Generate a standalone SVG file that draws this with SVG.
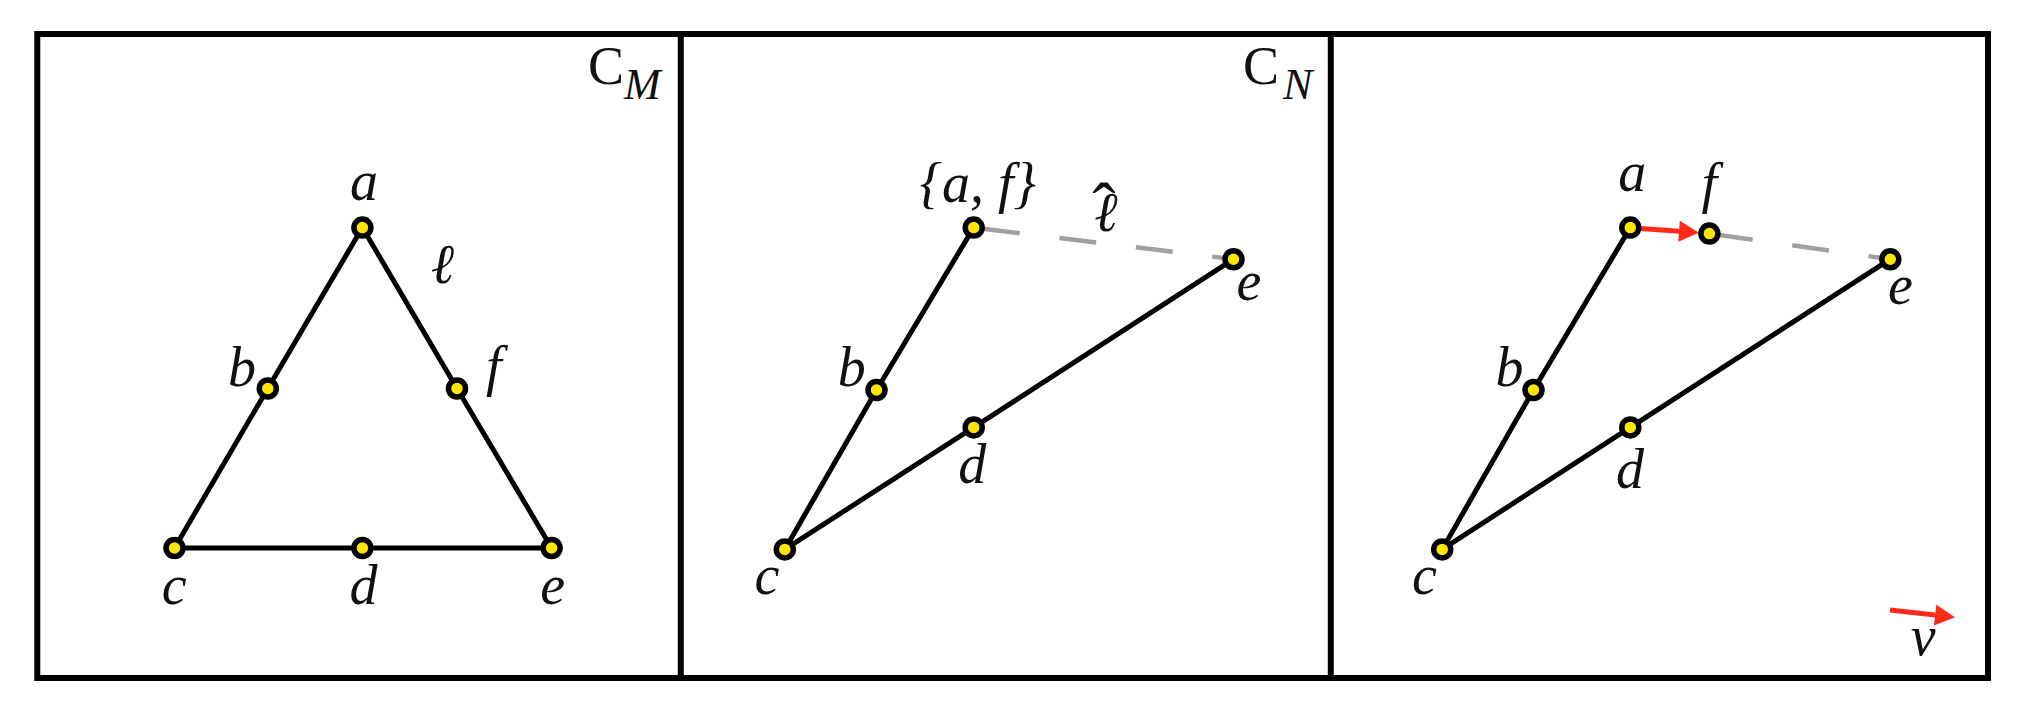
<svg xmlns="http://www.w3.org/2000/svg" width="2034" height="728" viewBox="0 0 2034 728">
<defs>
<style>
.frame{fill:none;stroke:#000;stroke-width:6}
.edge{stroke:#000;stroke-width:5;fill:none;stroke-linecap:round}
.dash{stroke:#a0a0a0;stroke-width:4.5;fill:none;stroke-dasharray:37 40}
.red{stroke:#ff2a1a;stroke-width:5;fill:none}
.node circle{fill:#ffe500;stroke:#000;stroke-width:5.5}
.lbl{font-family:"Liberation Serif",serif;font-style:italic;font-size:56px;fill:#111;text-anchor:middle}
.cap{font-family:"Liberation Serif",serif;font-size:54px;fill:#111}
.sub{font-family:"Liberation Serif",serif;font-style:italic;font-size:44px;fill:#111}
</style>
<marker id="ah" viewBox="-1 -12 22 24" markerWidth="22" markerHeight="24" refX="0" refY="0" orient="auto" markerUnits="userSpaceOnUse">
<path d="M0,-10.5 L20,0 L0,10.5 Z" fill="#ff2a1a"/>
</marker>
</defs>
<rect width="2034" height="728" fill="#fff"/>
<g id="frames">
<rect class="frame" x="37.3" y="34" width="1950.7" height="644"/>
<line class="frame" x1="680.8" y1="34" x2="680.8" y2="678"/>
<line class="frame" x1="1330.8" y1="34" x2="1330.8" y2="678"/>
</g>
<g id="connectors">
<line class="edge" x1="362.4" y1="227.6" x2="267.8" y2="388.5"/>
<line class="edge" x1="267.8" y1="388.5" x2="174.5" y2="548"/>
<line class="edge" x1="362.4" y1="227.6" x2="457" y2="388.5"/>
<line class="edge" x1="457" y1="388.5" x2="551.6" y2="548"/>
<line class="edge" x1="174.5" y1="548" x2="362.4" y2="548"/>
<line class="edge" x1="362.4" y1="548" x2="551.6" y2="548"/>
<line class="dash" x1="983" y1="228.8" x2="1233.5" y2="259.2"/>
<line class="edge" x1="973.7" y1="227.6" x2="876.5" y2="390"/>
<line class="edge" x1="876.5" y1="390" x2="784.8" y2="549.4"/>
<line class="edge" x1="784.8" y1="549.4" x2="973.7" y2="427.4"/>
<line class="edge" x1="973.7" y1="427.4" x2="1233.5" y2="259.2"/>
<line class="dash" x1="1716" y1="234.5" x2="1890.3" y2="259.2"/>
<line class="edge" x1="1630.3" y1="227.6" x2="1533.5" y2="390"/>
<line class="edge" x1="1533.5" y1="390" x2="1442.2" y2="549.4"/>
<line class="edge" x1="1442.2" y1="549.4" x2="1630.3" y2="427.4"/>
<line class="edge" x1="1630.3" y1="427.4" x2="1890.3" y2="259.2"/>
<line class="red" x1="1640.3" y1="228.4" x2="1679" y2="231.3" marker-end="url(#ah)"/>
<line class="red" x1="1890" y1="610" x2="1935.1" y2="615.1" marker-end="url(#ah)"/>
</g>
<g id="panel-M">
<text class="cap" x="588" y="83.7">C</text><text class="sub" x="624" y="98.5">M</text>
<g id="m-a" class="node"><circle cx="362.4" cy="227.6" r="8.5"/><text class="lbl" x="364" y="200">a</text></g>
<g id="m-b" class="node"><circle cx="267.8" cy="388.5" r="8.5"/><text class="lbl" x="242" y="385.5">b</text></g>
<g id="m-f" class="node"><circle cx="457" cy="388.5" r="8.5"/><text class="lbl" x="493.7" y="385">f</text></g>
<g id="m-c" class="node"><circle cx="174.5" cy="548" r="8.5"/><text class="lbl" x="174.3" y="603.7">c</text></g>
<g id="m-d" class="node"><circle cx="362.4" cy="548" r="8.5"/><text class="lbl" x="363.6" y="603.7">d</text></g>
<g id="m-e" class="node"><circle cx="551.6" cy="548" r="8.5"/><text class="lbl" x="552.8" y="603.7">e</text></g>
<text class="lbl" x="442.5" y="283">ℓ</text>
</g>
<g id="panel-N">
<text class="cap" x="1243" y="83.7">C</text><text class="sub" x="1283" y="98.5">N</text>
<g id="n-af" class="node"><circle cx="973.7" cy="227.6" r="8.5"/><text class="lbl" x="977.8" y="202">{a, f}</text></g>
<g id="n-b" class="node"><circle cx="876.5" cy="390" r="8.5"/><text class="lbl" x="851.8" y="385.5">b</text></g>
<g id="n-d" class="node"><circle cx="973.7" cy="427.4" r="8.5"/><text class="lbl" x="972.3" y="483">d</text></g>
<g id="n-e" class="node"><circle cx="1233.5" cy="259.2" r="8.5"/><text class="lbl" x="1249" y="299.6">e</text></g>
<g id="n-c" class="node"><circle cx="784.8" cy="549.4" r="8.5"/><text class="lbl" x="767" y="594.4">c</text></g>
<text class="lbl" x="1106" y="231">ℓ<tspan x="1104" y="231" style="font-size:70px;font-style:normal">ˆ</tspan></text>
</g>
<g id="panel-3">
<g id="p-a" class="node"><circle cx="1630.3" cy="227.6" r="8.5"/><text class="lbl" x="1632.2" y="191.4">a</text></g>
<g id="p-f" class="node"><circle cx="1709.4" cy="233.6" r="8.5"/><text class="lbl" x="1709.4" y="202">f</text></g>
<g id="p-b" class="node"><circle cx="1533.5" cy="390" r="8.5"/><text class="lbl" x="1509.4" y="385.5">b</text></g>
<g id="p-d" class="node"><circle cx="1630.3" cy="427.4" r="8.5"/><text class="lbl" x="1629.9" y="487.6">d</text></g>
<g id="p-e" class="node"><circle cx="1890.3" cy="259.2" r="8.5"/><text class="lbl" x="1900.4" y="304.2">e</text></g>
<g id="p-c" class="node"><circle cx="1442.2" cy="549.4" r="8.5"/><text class="lbl" x="1424.4" y="594.4">c</text></g>
<text class="lbl" x="1923.1" y="654.8">v</text>
</g>
</svg>
